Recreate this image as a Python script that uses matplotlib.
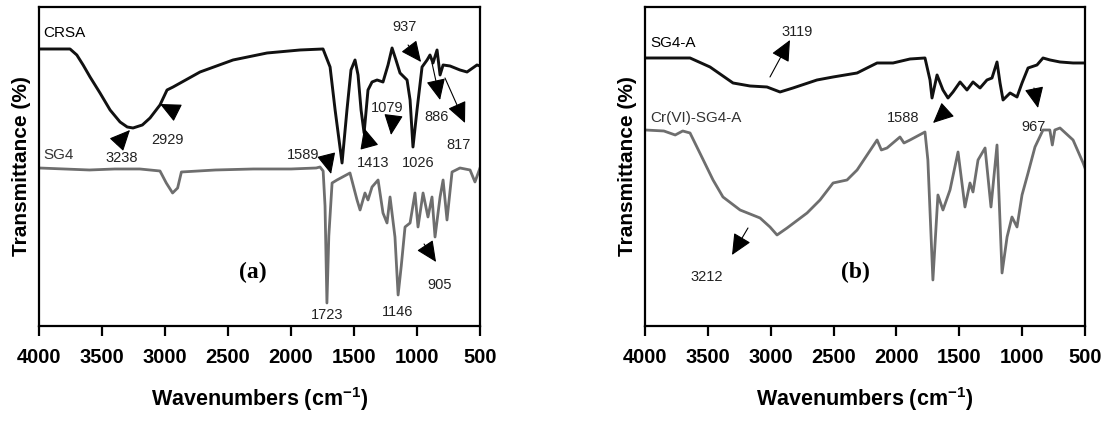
import matplotlib
matplotlib.use("Agg")
import matplotlib.pyplot as plt

plt.rcParams['font.family'] = ['Liberation Sans', 'DejaVu Sans']
plt.rcParams['mathtext.fontset'] = 'custom'
plt.rcParams['mathtext.rm'] = 'Liberation Sans'
plt.rcParams['mathtext.bf'] = 'Liberation Sans:bold'

# ---- panel (a) ----
crsa_wn = [4000, 3754, 3700, 3650, 3595, 3516, 3436, 3357, 3300, 3254, 3180, 3119,
           3040, 2984, 2936, 2722, 2460, 2190, 1928, 1746, 1690, 1650, 1595, 1556,
           1524, 1492, 1468, 1444, 1420, 1389, 1357, 1317, 1270, 1230, 1198, 1167,
           1135, 1079, 1055, 1032, 1000, 960, 920, 897, 873, 841, 817, 793, 738,
           659, 603, 524, 500]
crsa_t = [277, 277, 271, 261, 249, 233, 216, 204, 199, 198, 201, 208,
          221, 236, 239, 254, 266, 273, 276, 277, 259, 216, 163, 216,
          256, 266, 251, 216, 193, 236, 244, 246, 244, 261, 278, 266,
          253, 246, 226, 179, 216, 259, 266, 271, 263, 276, 251, 261, 260,
          256, 254, 261, 260]

sg4_wn = [4000, 3800, 3600, 3400, 3200, 3040, 2990, 2940, 2900, 2870, 2600, 2300,
          2000, 1800, 1770, 1745, 1730, 1715, 1700, 1674, 1635, 1532, 1476, 1452,
          1413, 1389, 1357, 1309, 1270, 1238, 1214, 1175, 1150, 1125, 1095, 1055,
          1016, 992, 952, 913, 881, 857, 817, 793, 762, 722, 659, 579, 540, 500]
sg4_t = [158, 157, 156, 157, 157, 155, 143, 133, 138, 154, 156, 157,
         157, 158, 159, 155, 120, 23, 90, 143, 146, 153, 126, 116,
         133, 126, 139, 146, 113, 103, 129, 89, 31, 60, 99, 103,
         133, 99, 133, 109, 129, 89, 129, 146, 106, 154, 158, 156, 144, 158]

# ---- panel (b) ----
sg4a_wn = [4000, 3642, 3483, 3300, 3165, 3030, 2926, 2823, 2632, 2504, 2313, 2234,
           2154, 2027, 1892, 1773, 1733, 1717, 1677, 1630, 1590, 1550, 1494, 1439,
           1391, 1335, 1280, 1240, 1200, 1176, 1152, 1096, 1041, 1001, 953, 882,
           834, 778, 699, 595, 515, 500]
sg4a_t = [268, 268, 259, 243, 240, 239, 234, 238, 246, 249, 253, 258,
          263, 263, 267, 268, 246, 228, 251, 236, 228, 234, 244, 236,
          244, 238, 246, 248, 264, 243, 226, 233, 229, 243, 258, 261,
          268, 266, 264, 263, 263, 263]

cr_wn = [4000, 3850, 3760, 3700, 3642, 3560, 3459, 3380, 3244, 3085, 3006, 2950,
         2870, 2711, 2608, 2504, 2393, 2313, 2154, 2120, 2075, 1972, 1940, 1892,
         1773, 1750, 1710, 1670, 1630, 1574, 1510, 1455, 1415, 1391, 1351, 1295,
         1248, 1200, 1160, 1120, 1081, 1041, 1001, 953, 898, 834, 780, 760, 740,
         699, 595, 515, 500]
cr_t = [196, 195, 191, 195, 193, 172, 146, 129, 116, 108, 99, 91,
        98, 113, 126, 143, 146, 156, 186, 176, 178, 189, 183, 186,
        194, 166, 46, 131, 116, 136, 174, 119, 143, 134, 166, 178,
        119, 181, 53, 89, 109, 99, 131, 153, 179, 196, 196, 181, 196,
        198, 186, 163, 158]

ticks = [4000, 3500, 3000, 2500, 2000, 1500, 1000, 500]

# peak labels: (text, text position, arrow tail, arrow tip)
peaks_a = [
    ("3238", (3341, 168), (3381, 182), (3278, 196)),
    ("2929", (2984, 186), (2913, 214), (3040, 222)),
    ("1589", (1905, 171), (1714, 168), (1682, 152)),
    ("1413", (1349, 163), (1381, 180), (1420, 198)),
    ("1079", (1238, 218), (1190, 207), (1206, 191)),
    ("1026", (992, 163), None, None),
    ("937", (1095, 299), (1071, 281), (968, 264)),
    ("886", (841, 209), (881, 263), (817, 226)),
    ("817", (674, 181), (778, 248), (619, 203)),
    ("1723", (1714, 11), None, None),
    ("1146", (1151, 14), None, None),
    ("905", (817, 41), (944, 82), (849, 64)),
]
peaks_b = [
    ("3119", (2791, 294), (3006, 249), (2847, 286)),
    ("1588", (1948, 208), (1613, 214), (1709, 203)),
    ("967", (913, 199), (906, 238), (874, 218)),
    ("3212", (3507, 49), (3181, 98), (3308, 71)),
]

fig = plt.figure(figsize=(11.15, 4.21), dpi=100)
ax1 = fig.add_axes([0.035, 0.2257, 0.3955, 0.7577])
ax2 = fig.add_axes([0.5785, 0.2257, 0.3946, 0.7577])

black = '#111111'
grey = '#6e6e6e'

ax1.plot(crsa_wn, crsa_t, color=black, lw=2.1)
ax1.plot(sg4_wn, sg4_t, color=grey, lw=2.0)
ax2.plot(sg4a_wn, sg4a_t, color=black, lw=2.1)
ax2.plot(cr_wn, cr_t, color=grey, lw=2.0)

ax1.text(3968, 293, "CRSA", fontsize=11, va='center', ha='left')
ax1.text(3968, 171, "SG4", fontsize=11, va='center', ha='left', color='#333333')
ax2.text(3960, 283, "SG4-A", fontsize=11, va='center', ha='left')
ax2.text(3960, 208, "Cr(VI)-SG4-A", fontsize=11, va='center', ha='left', color='#333333')

for ax, peaks in ((ax1, peaks_a), (ax2, peaks_b)):
    for lab, txy, tail, tip in peaks:
        ax.text(txy[0], txy[1], lab, fontsize=10.5, ha='center', va='center', color='#222222')
        if tail is not None:
            ax.annotate("", xy=tip, xytext=tail,
                        arrowprops=dict(arrowstyle='-|>,head_length=0.65,head_width=0.3',
                                        color='k', lw=0.8, mutation_scale=20,
                                        shrinkA=0, shrinkB=0))

ax1.text(2301, 54, "(a)", fontsize=17, fontweight='bold', family='Liberation Serif',
         ha='center', va='center')
ax2.text(2329, 54, "(b)", fontsize=17, fontweight='bold', family='Liberation Serif',
         ha='center', va='center')

for ax in (ax1, ax2):
    ax.set_xlim(4000, 500)
    ax.set_ylim(0, 319)
    ax.set_xticks(ticks)
    ax.set_xticklabels([str(t) for t in ticks], fontweight='bold', fontsize=14.5)
    ax.set_yticks([])
    ax.tick_params(axis='x', direction='out', length=7, width=1.6, pad=9)
    for s in ax.spines.values():
        s.set_linewidth(1.6)
    ax.set_xlabel("Wavenumbers (cm$^{\\mathbf{-1}}$)", fontsize=15.5, fontweight='bold', labelpad=13)
    ax.set_ylabel("Transmittance (%)", fontsize=15, fontweight='bold', labelpad=6)

fig.savefig("out.png", dpi=100)
